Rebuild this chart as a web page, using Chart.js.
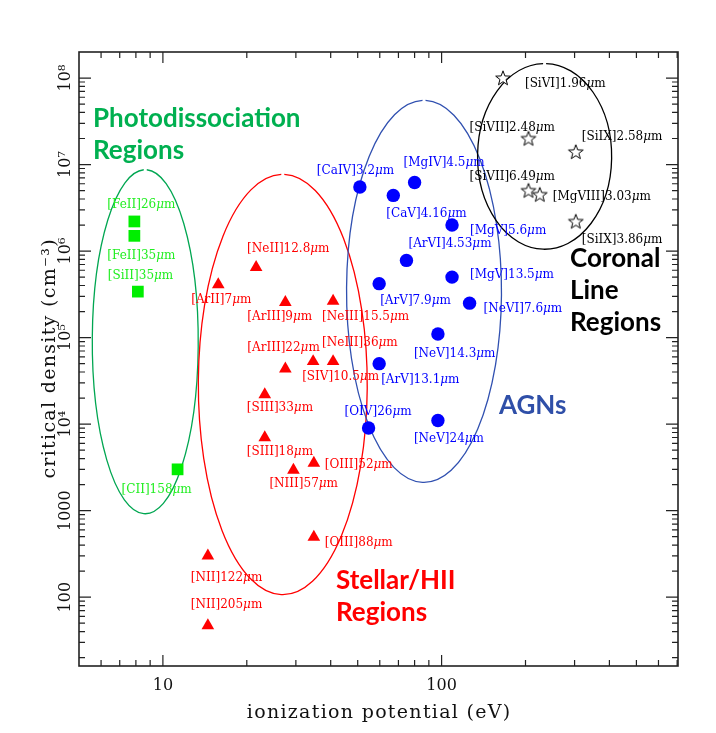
<!DOCTYPE html>
<html>
<head>
<meta charset="utf-8">
<script src="https://cdn.jsdelivr.net/npm/chart.js@4.4.0/dist/chart.umd.min.js"></script>
<style>
  body { margin: 0; background: #fff; }
</style>
</head>
<body>
<canvas id="myChart" width="716" height="733"></canvas>
<script>
// ---- data: ionization potential (eV) vs critical density (cm^-3) ----
const pdr_labels = ["[FeII]26μm", "[FeII]35μm", "[SiII]35μm", "[CII]158μm"];
const pdr_ip = [7.9, 7.9, 8.13, 11.29];
const pdr_ncrit = [2.2e6, 1.5e6, 3.4e5, 3.0e3];

const hii_labels = [
    "[NeII]12.8μm", "[ArII]7μm", "[ArIII]9μm", "[NeIII]15.5μm",
    "[ArIII]22μm", "[NeIII]36μm", "[SIV]10.5μm", "[SIII]33μm",
    "[SIII]18μm", "[OIII]52μm", "[NIII]57μm", "[OIII]88μm",
    "[NII]122μm", "[NII]205μm",
];
const hii_ip = [21.6, 15.8, 27.5, 40.8, 27.5, 40.8, 34.6, 23.2, 23.2, 34.8, 29.4, 34.8, 14.5, 14.5];
const hii_ncrit = [6.5e5, 4.1e5, 2.55e5, 2.65e5, 4.35e4, 5.3e4, 5.3e4, 2.2e4, 7.0e3, 3.55e3, 2.95e3, 495, 300, 47];

const agn_labels = [
    "[CaIV]3.2μm", "[CaV]4.16μm", "[MgIV]4.5μm", "[MgV]5.6μm",
    "[ArVI]4.53μm", "[MgV]13.5μm", "[ArV]7.9μm", "[NeVI]7.6μm",
    "[NeV]14.3μm", "[ArV]13.1μm", "[OIV]26μm", "[NeV]24μm",
];
const agn_ip = [50.9, 67.1, 80.0, 109, 74.8, 109, 59.7, 126, 97, 59.7, 54.7, 97];
const agn_ncrit = [5.5e6, 4.4e6, 6.2e6, 2.0e6, 7.8e5, 5.0e5, 4.2e5, 2.5e5, 1.1e5, 5.0e4, 9.0e3, 1.1e4];

const cor_labels = ["[SiVI]1.96μm", "[SiVII]2.48μm", "[SiIX]2.58μm", "[SiVII]6.49μm", "[MgVIII]3.03μm", "[SiIX]3.86μm"];
const cor_ip = [166, 205, 303, 205, 225, 303];
const cor_ncrit = [1.0e8, 2.0e7, 1.4e7, 5.0e6, 4.5e6, 2.2e6];

const x_ticks = [10, 100];
const x_tick_labels = ["10", "100"];
const y_ticks = [1e2, 1e3, 1e4, 1e5, 1e6, 1e7, 1e8];
const y_tick_labels = ["100", "1000", "10⁴", "10⁵", "10⁶", "10⁷", "10⁸"];

// ---- layout (pixel offsets of each label from its marker: left, baseline) ----
const pdr_offsets = [[-27, -13], [-27, 23], [-30, -13], [-56, 24]];
const hii_offsets = [[-9, -15], [-27, 18], [-38, 18], [-11, 19], [-38, -18], [-11, -15], [-11, 19],
    [-18, 17], [-18, 17], [11, 5], [-24, 17], [11, 9], [-17, 25], [-17, -18]];
const agn_offsets = [[-43, -13], [-7, 22], [-11, -17], [18, 9], [2, -13], [18, 1], [1, 20], [14, 9],
    [-24, 23], [2, 19], [-24, -13], [-24, 21]];
const cor_offsets = [[22, 9], [-59, -8], [6, -12], [-59, -11], [13, 5], [6, 22]];

// region ellipses, bounds in data units: [xmin, xmax, ymin, ymax]
const regions = [
    { box: [5.58, 13.39, 920, 8.73e6], color: '#00a651' },
    { box: [13.4, 54.1, 107, 7.7e6], color: '#ff0000' },
    { box: [45.6, 164, 2120, 5.52e7], color: '#3050b0' },
    { box: [134.6, 407.5, 1.05e6, 1.47e8], color: '#000000' },
];
// region captions, pixel position relative to chart area top-left
const captions = [
    { lines: ["Photodissociation", "Regions"], x: 14, y: 75, color: '#00b050' },
    { lines: ["Stellar/HII", "Regions"], x: 257, y: 537, color: '#ff0000' },
    { lines: ["AGNs"], x: 420, y: 362, color: '#2f4fa8' },
    { lines: ["Coronal", "Line", "Regions"], x: 491, y: 215, color: '#000000' },
];

const LABEL_FONT = '12px "DejaVu Serif"';
const LABEL_FONT_MU = 'italic 12px "DejaVu Serif"';
const TICK_FONT = '16px "DejaVu Serif"';
const TITLE_FONT = '19px "DejaVu Serif"';

// open star marker
function makeStar() {
    const c = document.createElement('canvas');
    c.width = 20; c.height = 20;
    const g = c.getContext('2d');
    g.beginPath();
    for (let i = 0; i < 10; i++) {
        const r = i % 2 === 0 ? 7.7 : 3.2;
        const a = -Math.PI / 2 + i * Math.PI / 5;
        const px = 10 + r * Math.cos(a), py = 10.5 + r * Math.sin(a);
        i === 0 ? g.moveTo(px, py) : g.lineTo(px, py);
    }
    g.closePath();
    g.fillStyle = '#fff';
    g.fill();
    g.lineWidth = 1;
    g.strokeStyle = '#000';
    g.stroke();
    return c;
}

const toPoints = (xs, ys) => xs.map((x, i) => ({ x: x, y: ys[i] }));

const data = {
    datasets: [
        {
            label: 'PDR', data: toPoints(pdr_ip, pdr_ncrit), names: pdr_labels, offsets: pdr_offsets,
            pointStyle: 'rect', pointRadius: 8.3, backgroundColor: '#00ee00', borderWidth: 0, textColor: '#22ee22',
        },
        {
            label: 'HII', data: toPoints(hii_ip, hii_ncrit), names: hii_labels, offsets: hii_offsets,
            pointStyle: 'triangle', pointRadius: 7.3, backgroundColor: '#ff0000', borderWidth: 0, textColor: '#ff0000',
        },
        {
            label: 'AGN', data: toPoints(agn_ip, agn_ncrit), names: agn_labels, offsets: agn_offsets,
            pointStyle: 'circle', pointRadius: 6.7, backgroundColor: '#0000ff', borderWidth: 0, textColor: '#0000ff',
        },
        {
            label: 'Coronal', data: toPoints(cor_ip, cor_ncrit), names: cor_labels, offsets: cor_offsets,
            pointStyle: makeStar(), pointRadius: 8, textColor: '#000000',
        },
    ],
};

function logTicks(min, max) {
    const v = [];
    for (let e = Math.floor(Math.log10(min)); e <= Math.ceil(Math.log10(max)); e++) {
        for (let m = 1; m <= 9; m++) {
            const t = m * Math.pow(10, e);
            if (t > min * 1.001 && t < max * 0.999) v.push({ t: t, major: m === 1 });
        }
    }
    return v;
}

// draw text centred on (0,0) with extra spacing between characters
function spacedText(ctx, text, spacing) {
    const chars = Array.from(text);
    const widths = chars.map(ch => ctx.measureText(ch).width);
    const total = widths.reduce((s, w) => s + w, 0) + spacing * (chars.length - 1);
    let pos = -total / 2;
    ctx.textAlign = 'left';
    chars.forEach((ch, i) => {
        ctx.fillText(ch, pos, 0);
        pos += widths[i] + spacing;
    });
}

// label with an italic mu
function lineLabel(ctx, text, x, y) {
    const parts = text.split('μ');
    ctx.font = LABEL_FONT;
    ctx.fillText(parts[0], x, y);
    if (parts.length < 2) return;
    let pos = x + ctx.measureText(parts[0]).width;
    ctx.font = LABEL_FONT_MU;
    ctx.fillText('μ', pos, y);
    pos += ctx.measureText('μ').width;
    ctx.font = LABEL_FONT;
    ctx.fillText(parts[1], pos, y);
}

const regionPlugin = {
    id: 'regions',
    beforeDatasetsDraw(chart) {
        const { ctx, scales: { x, y } } = chart;
        ctx.save();
        regions.forEach(r => {
            const x0 = x.getPixelForValue(r.box[0]), x1 = x.getPixelForValue(r.box[1]);
            const y0 = y.getPixelForValue(r.box[2]), y1 = y.getPixelForValue(r.box[3]);
            const rx = Math.abs(x1 - x0) / 2, ry = Math.abs(y1 - y0) / 2;
            const gap = 1.5 / rx;
            ctx.beginPath();
            ctx.ellipse((x0 + x1) / 2, (y0 + y1) / 2, rx, ry, 0, -Math.PI / 2 + gap, 1.5 * Math.PI - gap);
            ctx.lineWidth = 1.3;
            ctx.strokeStyle = r.color;
            ctx.stroke();
        });
        ctx.restore();
    },
    afterDatasetsDraw(chart) {
        const { ctx, chartArea } = chart;
        ctx.save();
        ctx.textAlign = 'left';
        ctx.textBaseline = 'alphabetic';
        chart.data.datasets.forEach((ds, i) => {
            const meta = chart.getDatasetMeta(i);
            ctx.fillStyle = ds.textColor;
            meta.data.forEach((pt, j) => {
                lineLabel(ctx, ds.names[j], pt.x + ds.offsets[j][0], pt.y + ds.offsets[j][1]);
            });
        });
        ctx.font = 'bold 26px Lato';
        captions.forEach(c => {
            ctx.fillStyle = c.color;
            c.lines.forEach((line, k) => {
                ctx.fillText(line, chartArea.left + c.x, chartArea.top + c.y + k * 32);
            });
        });
        ctx.restore();
    },
    afterDraw(chart) {
        const { ctx, chartArea: a, scales: { x, y } } = chart;
        ctx.save();
        ctx.strokeStyle = '#222';
        ctx.lineWidth = 1.2;
        ctx.beginPath();
        logTicks(x.min, x.max).forEach(t => {
            const px = x.getPixelForValue(t.t), len = t.major ? 11 : 6;
            ctx.moveTo(px, a.bottom); ctx.lineTo(px, a.bottom - len);
            ctx.moveTo(px, a.top); ctx.lineTo(px, a.top + len);
        });
        logTicks(y.min, y.max).forEach(t => {
            const py = y.getPixelForValue(t.t), len = t.major ? 12 : 6;
            ctx.moveTo(a.left, py); ctx.lineTo(a.left + len, py);
            ctx.moveTo(a.right, py); ctx.lineTo(a.right - len, py);
        });
        ctx.stroke();
        ctx.lineWidth = 1.6;
        ctx.strokeRect(a.left, a.top, a.right - a.left, a.bottom - a.top);

        ctx.fillStyle = '#111';
        ctx.font = TICK_FONT;
        ctx.textAlign = 'center';
        ctx.textBaseline = 'alphabetic';
        x_ticks.forEach((v, i) => {
            ctx.fillText(x_tick_labels[i], x.getPixelForValue(v), a.bottom + 24);
        });
        y_ticks.forEach((v, i) => {
            ctx.save();
            ctx.translate(a.left - 9, y.getPixelForValue(v));
            ctx.rotate(-Math.PI / 2);
            ctx.fillText(y_tick_labels[i], 0, 0);
            ctx.restore();
        });

        ctx.font = TITLE_FONT;
        ctx.save();
        ctx.translate((a.left + a.right) / 2, a.bottom + 52);
        spacedText(ctx, 'ionization potential (eV)', 1.3);
        ctx.restore();
        ctx.save();
        ctx.translate(a.left - 24, (a.top + a.bottom) / 2);
        ctx.rotate(-Math.PI / 2);
        spacedText(ctx, 'critical density (cm⁻³)', 1.3);
        ctx.restore();
        ctx.restore();
    },
};

const config = {
    type: 'scatter',
    data: data,
    options: {
        responsive: false,
        animation: false,
        layout: {
            padding: { left: 79, top: 52, right: 38, bottom: 67 },
        },
        scales: {
            x: { type: 'logarithmic', min: 5, max: 705, display: false },
            y: { type: 'logarithmic', min: 16, max: 2e8, display: false },
        },
        plugins: {
            legend: { display: false },
            tooltip: { enabled: false },
        },
    },
    plugins: [regionPlugin],
};

const myChart = new Chart(document.getElementById('myChart').getContext('2d'), config);
</script>
</body>
</html>
